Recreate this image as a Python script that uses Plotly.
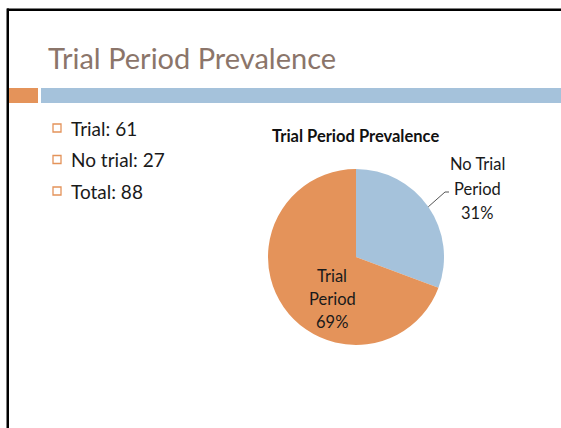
import math
import plotly.graph_objects as go

# ---- data ----
slide_title = "Trial Period Prevalence"
chart_title = "Trial Period Prevalence"
categories = ["No Trial Period", "Trial Period"]
label_lines = [["No Trial", "Period"], ["Trial", "Period"]]
counts = [27, 61]
bullet_labels = ["Trial", "No trial", "Total"]
bullet_values = [61, 27, 88]

W, H = 561, 428
ORANGE = "#E4935A"
BLUE = "#A5C2DB"
FONT = "Lato"
TXT = "#1a1a1a"


def px(x):
    return x / W


def py(y):
    return 1 - y / H


# pie geometry (pixels)
CX, CY, R = 356, 257, 88

fig = go.Figure()

fig.add_trace(go.Pie(
    labels=categories,
    values=counts,
    sort=False,
    direction="clockwise",
    rotation=0,
    marker=dict(colors=[BLUE, ORANGE], line=dict(width=0)),
    textinfo="none",
    hoverinfo="skip",
    showlegend=False,
    domain=dict(x=[px(CX - R), px(CX + R)], y=[py(CY + R), py(CY - R)]),
))

shapes = [
    dict(type="rect", xref="paper", yref="paper", x0=px(7), x1=px(561), y0=py(8.5), y1=py(11),
         fillcolor="black", line=dict(width=0)),
    dict(type="rect", xref="paper", yref="paper", x0=px(6.5), x1=px(9), y0=py(8.5), y1=py(428),
         fillcolor="black", line=dict(width=0)),
    dict(type="rect", xref="paper", yref="paper", x0=px(9), x1=px(38), y0=py(88), y1=py(103),
         fillcolor=ORANGE, line=dict(width=0)),
    dict(type="rect", xref="paper", yref="paper", x0=px(41), x1=px(561), y0=py(88), y1=py(103),
         fillcolor=BLUE, line=dict(width=0)),
]

annotations = [
    dict(text=slide_title, xref="paper", yref="paper", x=px(46), y=py(58),
         xanchor="left", yanchor="middle", showarrow=False,
         font=dict(family=FONT, size=29, color="#8B756A")),
    dict(text="<b>" + chart_title + "</b>", xref="paper", yref="paper", x=px(355), y=py(136),
         xanchor="center", yanchor="middle", showarrow=False,
         font=dict(family=FONT, size=16.5, color="#111111")),
]

bullet_y = [128, 159.5, 191]
for lab, val, yy in zip(bullet_labels, bullet_values, bullet_y):
    shapes.append(dict(type="rect", xref="paper", yref="paper", x0=px(53), x1=px(61),
                       y0=py(yy - 4), y1=py(yy + 4), fillcolor="white",
                       line=dict(color=ORANGE, width=1.3)))
    annotations.append(dict(text=f"{lab}: {val}", xref="paper", yref="paper", x=px(69), y=py(yy),
                            xanchor="left", yanchor="middle", showarrow=False,
                            font=dict(family=FONT, size=19, color=TXT)))

# slice labels (text from data), three lines each
total = sum(counts)
pcts = [round(100 * c / total) for c in counts]
label_pos = [(477, [164, 189, 213]), (332, [276, 299, 322])]
for lines, pct, (lx, lys) in zip(label_lines, pcts, label_pos):
    for t, ly in zip(lines + [f"{pct}%"], lys):
        annotations.append(dict(text=t, xref="paper", yref="paper", x=px(lx), y=py(ly),
                                xanchor="center", yanchor="middle", showarrow=False,
                                font=dict(family=FONT, size=16.5, color=TXT)))

# leader line from the middle of the first slice's arc to its label
mid = (counts[0] / total / 2) * 2 * math.pi
ex, ey = CX + R * math.sin(mid), CY - R * math.cos(mid)
shapes.append(dict(type="path", xref="paper", yref="paper",
                   path=f"M {px(ex)},{py(ey)} L {px(445)},{py(192)} L {px(449)},{py(192)}",
                   line=dict(color="#555555", width=1)))

fig.update_layout(
    width=W, height=H,
    margin=dict(l=0, r=0, t=0, b=0),
    paper_bgcolor="white",
    plot_bgcolor="white",
    shapes=shapes,
    annotations=annotations,
)

fig.write_html("out.html",
               config={"displayModeBar": False, "staticPlot": True},
               post_script="document.body.style.margin='0';document.documentElement.style.overflow='hidden';")
